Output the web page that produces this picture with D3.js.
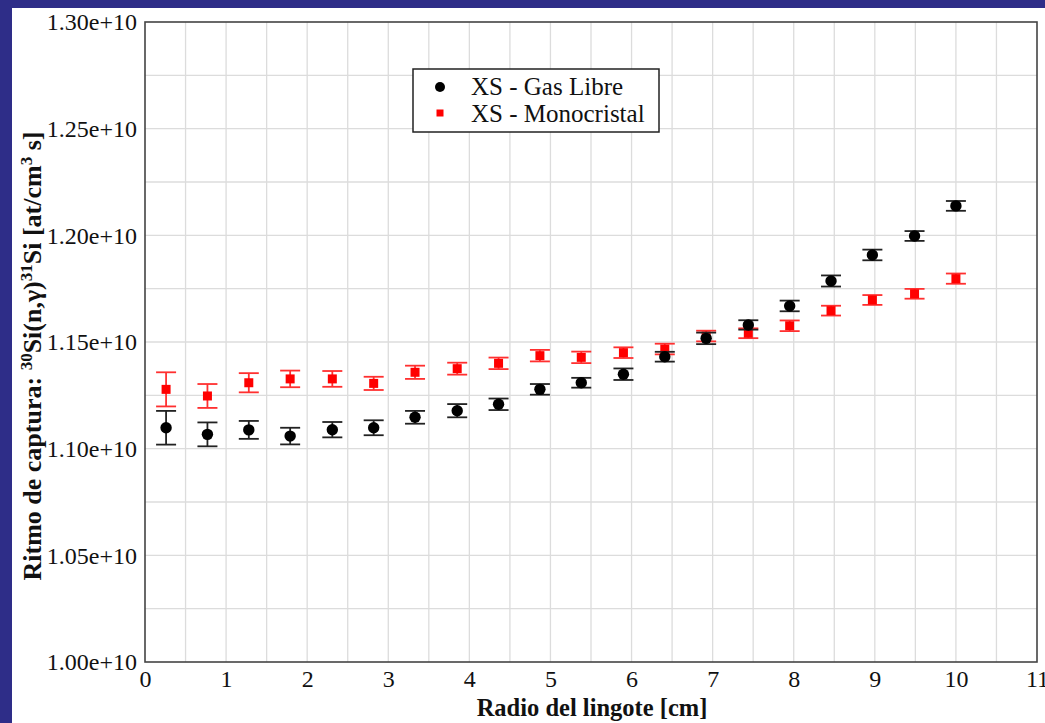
<!DOCTYPE html>
<html>
<head>
  <meta charset="utf-8">
  <script src="https://cdn.jsdelivr.net/npm/d3@7"></script>
  <style>
    body { margin: 0; background: #2e2d88; }
    svg { display: block; }
    text { font-family: "Liberation Serif", "Times New Roman", serif; fill: #111; }
  </style>
</head>
<body>
<script>
  // radio del lingote [cm]
  var radio = [0.26, 0.77, 1.28, 1.79, 2.31, 2.82, 3.33, 3.85, 4.36, 4.87,
               5.38, 5.90, 6.41, 6.92, 7.44, 7.95, 8.46, 8.97, 9.49, 10.00];

  // XS - Gas Libre (x 1e10)
  var gasLibre = [1.1098, 1.1067, 1.1088, 1.1059, 1.1089, 1.1098, 1.1147, 1.1178, 1.1208, 1.1278,
                  1.1309, 1.1349, 1.1431, 1.1517, 1.1580, 1.1669, 1.1786, 1.1908, 1.1997, 1.2138];
  var gasLibreErr = [0.0079, 0.0056, 0.0042, 0.0039, 0.0036, 0.0035, 0.0030, 0.0031, 0.0027, 0.0025,
                     0.0023, 0.0027, 0.0023, 0.0027, 0.0022, 0.0025, 0.0026, 0.0025, 0.0023, 0.0023];

  // XS - Monocristal (x 1e10)
  var mono = [1.1278, 1.1247, 1.1309, 1.1327, 1.1327, 1.1306, 1.1358, 1.1375, 1.1400, 1.1436,
              1.1428, 1.1450, 1.1467, 1.1528, 1.1541, 1.1576, 1.1647, 1.1697, 1.1726, 1.1797];
  var monoErr = [0.0080, 0.0056, 0.0045, 0.0039, 0.0037, 0.0031, 0.0031, 0.0028, 0.0027, 0.0027,
                 0.0027, 0.0025, 0.0025, 0.0025, 0.0023, 0.0025, 0.0023, 0.0023, 0.0023, 0.0024];

  var xTicks = [0, 1, 2, 3, 4, 5, 6, 7, 8, 9, 10, 11];
  var yTicks = [1.00, 1.05, 1.10, 1.15, 1.20, 1.25, 1.30];

  var serif = "Liberation Serif, Times New Roman, serif";
  var W = 1045, H = 723;
  var svg = d3.select("body").append("svg")
      .attr("width", W)
      .attr("height", H);

  // white page
  svg.append("rect")
    .attr("x", 12).attr("y", 8)
    .attr("width", W - 12).attr("height", H - 8)
    .attr("fill", "#fff");

  var x = d3.scaleLinear().domain([0, 11]).range([145, 1037]);
  var y = d3.scaleLinear().domain([1.00, 1.30]).range([662, 22]);

  // grid
  var grid = svg.append("g");
  grid.selectAll("line.gx")
    .data(d3.range(1, 22).map(function(i) { return i * 0.5; }))
    .enter().append("line")
      .attr("x1", function(d) { return x(d); })
      .attr("x2", function(d) { return x(d); })
      .attr("y1", y(1.00)).attr("y2", y(1.30))
      .attr("stroke", "#dcdcdc").attr("stroke-width", 1.3);
  grid.selectAll("line.gy")
    .data(d3.range(1, 12).map(function(i) { return 1.00 + i * 0.025; }))
    .enter().append("line")
      .attr("y1", function(d) { return y(d); })
      .attr("y2", function(d) { return y(d); })
      .attr("x1", x(0)).attr("x2", x(11))
      .attr("stroke", "#dcdcdc").attr("stroke-width", 1.3);

  // frame
  svg.append("rect")
    .attr("x", x(0)).attr("y", y(1.30))
    .attr("width", x(11) - x(0)).attr("height", y(1.00) - y(1.30))
    .attr("fill", "none").attr("stroke", "#444").attr("stroke-width", 1.6);

  // axes
  var xAxis = d3.axisBottom(x).tickValues(xTicks).tickSize(0).tickPadding(8)
      .tickFormat(d3.format("d"));
  var gx = svg.append("g").attr("transform", "translate(0," + y(1.00) + ")").call(xAxis);
  gx.select(".domain").remove();
  gx.selectAll("text").style("font-size", "24px").attr("fill", "#111")
    .style("font-family", serif);

  var yAxis = d3.axisLeft(y).tickValues(yTicks).tickSize(0).tickPadding(8)
      .tickFormat(function(d) { return d.toFixed(2) + "e+10"; });
  var gy = svg.append("g").attr("transform", "translate(" + x(0) + ",0)").call(yAxis);
  gy.select(".domain").remove();
  gy.selectAll("text").style("font-size", "24px").attr("fill", "#111")
    .style("font-family", serif);

  function drawSeries(vals, errs, color, errColor, shape) {
    var g = svg.append("g");
    var pts = radio.map(function(r, i) { return {x: r, y: vals[i], e: errs[i]}; });
    var eb = g.selectAll("g.eb").data(pts).enter().append("g")
      .attr("stroke", errColor).attr("stroke-width", 1.8);
    eb.append("line")
      .attr("x1", function(d) { return x(d.x); })
      .attr("x2", function(d) { return x(d.x); })
      .attr("y1", function(d) { return y(d.y + d.e); })
      .attr("y2", function(d) { return y(d.y - d.e); });
    [1, -1].forEach(function(s) {
      eb.append("line")
        .attr("x1", function(d) { return x(d.x) - 10; })
        .attr("x2", function(d) { return x(d.x) + 10; })
        .attr("y1", function(d) { return y(d.y + s * d.e); })
        .attr("y2", function(d) { return y(d.y + s * d.e); });
    });
    if (shape === "circle") {
      g.selectAll("circle").data(pts).enter().append("circle")
        .attr("cx", function(d) { return x(d.x); })
        .attr("cy", function(d) { return y(d.y); })
        .attr("r", 5.7).attr("fill", color);
    } else {
      g.selectAll("rect").data(pts).enter().append("rect")
        .attr("x", function(d) { return x(d.x) - 4.5; })
        .attr("y", function(d) { return y(d.y) - 4.5; })
        .attr("width", 9).attr("height", 9).attr("fill", color);
    }
  }

  drawSeries(mono, monoErr, "#ff0000", "#ff3030", "square");
  drawSeries(gasLibre, gasLibreErr, "#000", "#222", "circle");

  // legend
  var lg = svg.append("g");
  lg.append("rect")
    .attr("x", 413).attr("y", 69).attr("width", 246).attr("height", 63)
    .attr("fill", "#fff").attr("stroke", "#222").attr("stroke-width", 1.5);
  lg.append("circle").attr("cx", 440).attr("cy", 87).attr("r", 5).attr("fill", "#000");
  lg.append("rect").attr("x", 436.5).attr("y", 109.5).attr("width", 7).attr("height", 7).attr("fill", "#f00");
  lg.append("text").attr("x", 471).attr("y", 95)
    .style("font-family", serif).style("font-size", "25px").text("XS - Gas Libre");
  lg.append("text").attr("x", 471).attr("y", 122)
    .style("font-family", serif).style("font-size", "25px").text("XS - Monocristal");

  // axis titles
  svg.append("text")
    .attr("x", 592).attr("y", 716)
    .attr("text-anchor", "middle")
    .style("font-family", serif)
    .style("font-size", "24.5px").style("font-weight", "bold")
    .text("Radio del lingote [cm]");

  var yt = svg.append("text")
    .attr("transform", "translate(41,356) rotate(-90)")
    .attr("text-anchor", "middle")
    .style("font-family", serif)
    .style("font-size", "26px").style("font-weight", "bold");
  yt.append("tspan").text("Ritmo de captura: ");
  yt.append("tspan").attr("baseline-shift", "super").style("font-size", "17px").text("30");
  yt.append("tspan").text("Si(n,\u03b3)");
  yt.append("tspan").attr("baseline-shift", "super").style("font-size", "17px").text("31");
  yt.append("tspan").text("Si [at/cm");
  yt.append("tspan").attr("baseline-shift", "super").style("font-size", "17px").text("3");
  yt.append("tspan").text(" s]");
</script>
</body>
</html>
